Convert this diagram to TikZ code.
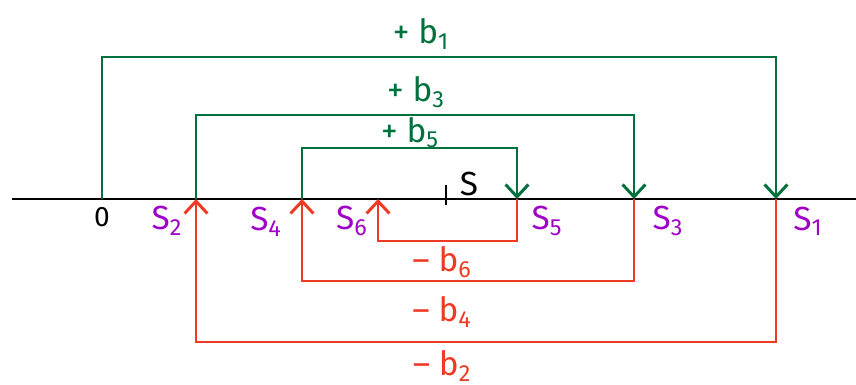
\documentclass[tikz,border=0pt]{standalone}
\usepackage{fontspec}
\setmainfont{Fira Sans}
\usepackage{xcolor}
\usetikzlibrary{arrows.meta,positioning}
\definecolor{gaingreen}{RGB}{0,112,60}
\definecolor{lossred}{RGB}{238,58,36}
\definecolor{pointpurple}{RGB}{160,0,200}

\begin{document}
\begin{tikzpicture}[x=0.02cm,y=-0.02cm,
    axisline/.style={line width=1.7pt,black},
    gain/.style={gaingreen,line width=1.7pt,-{Straight Barb[length=7pt,width=13pt,line width=1.7pt]}},
    loss/.style={lossred,line width=1.7pt,-{Straight Barb[length=7pt,width=13pt,line width=1.7pt]}},
    gainlbl/.style={gaingreen,font=\fontsize{19}{22}\selectfont},
    losslbl/.style={lossred,font=\fontsize{19}{22}\selectfont},
    ptlbl/.style={pointpurple,font=\fontsize{19}{22}\selectfont}]
    \useasboundingbox (0,0) rectangle (856,385);

    % Number line
    \coordinate (west) at (12,199);
    \coordinate (east) at (856,199);
    \draw[axisline] (west) -- (east);

    % Points on the line
    \coordinate (o)  at (102,199);
    \coordinate (s2) at (196,199);
    \coordinate (s4) at (302,199);
    \coordinate (s6) at (378,199);
    \coordinate (s)  at (446,199);
    \coordinate (s5) at (517,199);
    \coordinate (s3) at (634,199);
    \coordinate (s1) at (776,199);

    % Tick for S
    \draw[axisline] ([yshift=0.28cm]s) -- ([yshift=-0.12cm]s);
    \node[font=\fontsize{19}{22}\selectfont] (slbl) at (469,184) {S};

    % Point labels
    \node[font=\fontsize{16}{18}\selectfont] (olbl) at (102,217) {0};
    \node[ptlbl] (s2lbl) at (167,221) {S\textsubscript{2}};
    \node[ptlbl] (s4lbl) at (266,222) {S\textsubscript{4}};
    \node[ptlbl] (s6lbl) at (352,221) {S\textsubscript{6}};
    \node[ptlbl] (s5lbl) at (547,221) {S\textsubscript{5}};
    \node[ptlbl] (s3lbl) at (668,221) {S\textsubscript{3}};
    \node[ptlbl] (s1lbl) at (808,221) {S\textsubscript{1}};

    % Gains above the line
    \draw[gain] (o)  -- ++(0,-142) -| (s1);
    \draw[gain] (s2) -- ++(0,-84)  -| (s3);
    \draw[gain] (s4) -- ++(0,-51)  -| (s5);
    \node[gainlbl] (b1) at (421,34)  {+ b\textsubscript{1}};
    \node[gainlbl] (b3) at (416,92)  {+ b\textsubscript{3}};
    \node[gainlbl] (b5) at (410,133) {+ b\textsubscript{5}};

    % Losses below the line
    \draw[loss] (s5) -- ++(0,42)  -| (s6);
    \draw[loss] (s3) -- ++(0,82)  -| (s4);
    \draw[loss] (s1) -- ++(0,143) -| (s2);
    \node[losslbl] (b6) at (442,262) {-- b\textsubscript{6}};
    \node[losslbl] (b4) at (442,312) {-- b\textsubscript{4}};
    \node[losslbl] (b2) at (442,366) {-- b\textsubscript{2}};
\end{tikzpicture}
\end{document}
